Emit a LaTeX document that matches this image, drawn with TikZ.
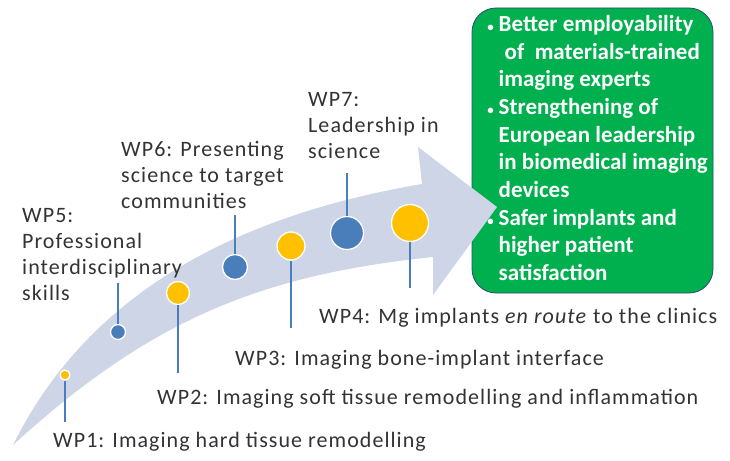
\documentclass[tikz,border=0pt]{standalone}
\usepackage{fontspec}
\setmainfont{Carlito}
\newfontfamily\wpfont[LetterSpace=4.8]{Carlito}
\usepackage{xcolor}
\usepackage{tikz}
\usetikzlibrary{positioning}
\definecolor{wpblue}{HTML}{4A7EBB}
\definecolor{wpgold}{HTML}{FFC000}
\definecolor{arrowgrey}{HTML}{CDD5E7}
\definecolor{goalgreen}{HTML}{00B04F}
\definecolor{txtgrey}{HTML}{333333}
\tikzset{
	wp/.style={anchor=base west, inner sep=0pt, font=\wpfont\fontsize{22}{25.7}\selectfont, text=txtgrey, align=left},
	gold/.style={circle, fill=wpgold, draw=white, line width=1.3pt, inner sep=0pt},
	blue/.style={circle, fill=wpblue, draw=white, line width=1.3pt, inner sep=0pt},
	stem/.style={draw=wpblue, line width=2.6pt},
	goal/.style={draw=wpblue!60!black, line width=0.8pt, fill=goalgreen, rounded corners=24pt, inner sep=0pt,
		minimum width=241pt, minimum height=285pt, text=white, font=\bfseries\fontsize{23}{27.7}\selectfont}
}
\newcommand{\milestone}[5]{
	\node[#1, minimum size=#3] (#2) at #4 {};
	\coordinate (#2-end) at #5;
}
\newcommand{\gb}{{\fontsize{13}{13}\selectfont\textbullet}}

\begin{document}
\begin{tikzpicture}[x=1pt, y=-1pt]
	\useasboundingbox (0,0) rectangle (730,460);

	\node[goal] (outcome) at (592.5,150.5) {\hspace*{10pt}\begin{tabular}{@{}l@{\hspace{5pt}}l@{}}
			\gb & Better employability \\
			& \hspace{6pt}of~~materials-trained \\
			& imaging experts \\
			\gb & Strengthening of \\
			& European leadership \\
			& in biomedical imaging \\
			& devices \\
			\gb & Safer implants and \\
			& higher patient \\
			& satisfaction
		\end{tabular}};

	% the arrow
	\fill[arrowgrey] (13,445) .. controls (80,310) and (210,220) .. (422,184)
		-- (418,147) -- (497,207) -- (433,295) -- (433,257)
		.. controls (260,275) and (150,320) .. (13,445) -- cycle;

	\milestone{gold}{wp1}{10pt}{(65,375)}{(65,422)};
	\milestone{blue}{wp5}{15pt}{(118,332)}{(118,283)};
	\milestone{gold}{wp2}{23pt}{(178,293)}{(178,373)};
	\milestone{blue}{wp6}{25pt}{(235,267)}{(235,215)};
	\milestone{gold}{wp3}{28pt}{(291,246)}{(291,328)};
	\milestone{blue}{wp7}{33pt}{(347,233)}{(347,173)};
	\milestone{gold}{wp4}{37pt}{(410,223)}{(410,288)};

	\draw[stem] (wp1.south) -- (wp1-end);
	\draw[stem] (wp5.north) -- (wp5-end);
	\draw[stem] (wp2.south) -- (wp2-end);
	\draw[stem] (wp6.north) -- (wp6-end);
	\draw[stem] (wp3.south) -- (wp3-end);
	\draw[stem] (wp7.north) -- (wp7-end);
	\draw[stem] (wp4.south) -- (wp4-end);

	\node[wp] (wp1-text) at (53,447) {WP1: Imaging hard tissue remodelling};
	\node[wp] (wp2-text) at (157,404) {WP2: Imaging soft tissue remodelling and inflammation};
	\node[wp] (wp3-text) at (235,365) {WP3: Imaging bone-implant interface};
	\node[wp] (wp4-text) at (319,323) {WP4: Mg implants \emph{en route} to the clinics};
	\node[wp] (wp5-text) at (22,300) {WP5:\\Professional\\interdisciplinary\\skills};
	\node[wp] (wp6-text) at (121,208) {WP6: Presenting\\science to target\\communities};
	\node[wp] (wp7-text) at (308,158) {WP7:\\Leadership in\\science};

\end{tikzpicture}
\end{document}
